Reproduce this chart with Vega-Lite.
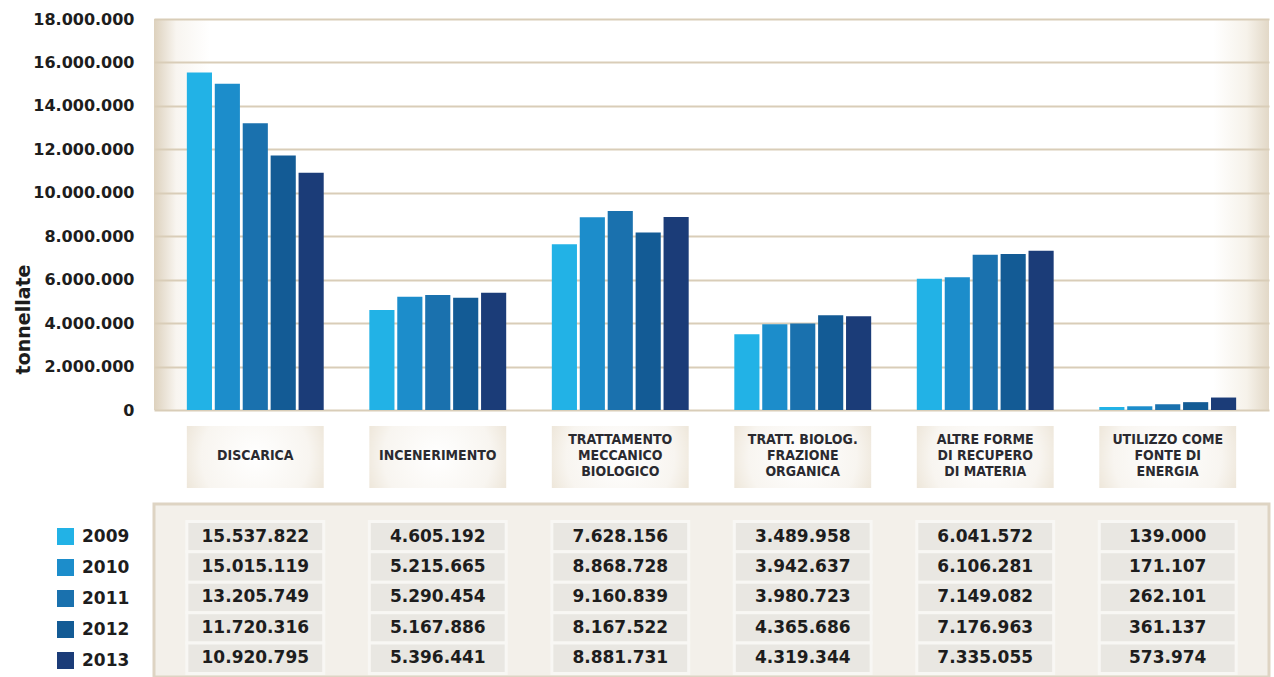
{
  "$schema": "https://vega.github.io/schema/vega-lite/v6.json",
  "autosize": {"type": "pad"},
  "padding": {"left": 14, "top": 11, "right": 4, "bottom": 0},
  "background": "white",
  "bounds": "flush",
  "config": {
    "locale": {"number": {"decimal": ",", "thousands": ".", "grouping": [3], "currency": ["", " €"]}},
    "view": {"stroke": null},
    "font": "DejaVu Sans"
  },
  "datasets": {
    "vals": [
      {"category": "DISCARICA", "year": "2009", "value": 15537822},
      {"category": "DISCARICA", "year": "2010", "value": 15015119},
      {"category": "DISCARICA", "year": "2011", "value": 13205749},
      {"category": "DISCARICA", "year": "2012", "value": 11720316},
      {"category": "DISCARICA", "year": "2013", "value": 10920795},
      {"category": "INCENERIMENTO", "year": "2009", "value": 4605192},
      {"category": "INCENERIMENTO", "year": "2010", "value": 5215665},
      {"category": "INCENERIMENTO", "year": "2011", "value": 5290454},
      {"category": "INCENERIMENTO", "year": "2012", "value": 5167886},
      {"category": "INCENERIMENTO", "year": "2013", "value": 5396441},
      {"category": "TRATTAMENTO|MECCANICO|BIOLOGICO", "year": "2009", "value": 7628156},
      {"category": "TRATTAMENTO|MECCANICO|BIOLOGICO", "year": "2010", "value": 8868728},
      {"category": "TRATTAMENTO|MECCANICO|BIOLOGICO", "year": "2011", "value": 9160839},
      {"category": "TRATTAMENTO|MECCANICO|BIOLOGICO", "year": "2012", "value": 8167522},
      {"category": "TRATTAMENTO|MECCANICO|BIOLOGICO", "year": "2013", "value": 8881731},
      {"category": "TRATT. BIOLOG.|FRAZIONE|ORGANICA", "year": "2009", "value": 3489958},
      {"category": "TRATT. BIOLOG.|FRAZIONE|ORGANICA", "year": "2010", "value": 3942637},
      {"category": "TRATT. BIOLOG.|FRAZIONE|ORGANICA", "year": "2011", "value": 3980723},
      {"category": "TRATT. BIOLOG.|FRAZIONE|ORGANICA", "year": "2012", "value": 4365686},
      {"category": "TRATT. BIOLOG.|FRAZIONE|ORGANICA", "year": "2013", "value": 4319344},
      {"category": "ALTRE FORME|DI RECUPERO|DI MATERIA", "year": "2009", "value": 6041572},
      {"category": "ALTRE FORME|DI RECUPERO|DI MATERIA", "year": "2010", "value": 6106281},
      {"category": "ALTRE FORME|DI RECUPERO|DI MATERIA", "year": "2011", "value": 7149082},
      {"category": "ALTRE FORME|DI RECUPERO|DI MATERIA", "year": "2012", "value": 7176963},
      {"category": "ALTRE FORME|DI RECUPERO|DI MATERIA", "year": "2013", "value": 7335055},
      {"category": "UTILIZZO COME|FONTE DI|ENERGIA", "year": "2009", "value": 139000},
      {"category": "UTILIZZO COME|FONTE DI|ENERGIA", "year": "2010", "value": 171107},
      {"category": "UTILIZZO COME|FONTE DI|ENERGIA", "year": "2011", "value": 262101},
      {"category": "UTILIZZO COME|FONTE DI|ENERGIA", "year": "2012", "value": 361137},
      {"category": "UTILIZZO COME|FONTE DI|ENERGIA", "year": "2013", "value": 573974}
    ],
    "cats": [
      {"category": "DISCARICA"},
      {"category": "INCENERIMENTO"},
      {"category": "TRATTAMENTO|MECCANICO|BIOLOGICO"},
      {"category": "TRATT. BIOLOG.|FRAZIONE|ORGANICA"},
      {"category": "ALTRE FORME|DI RECUPERO|DI MATERIA"},
      {"category": "UTILIZZO COME|FONTE DI|ENERGIA"}
    ]
  },
  "spacing": 16,
  "resolve": {"scale": {"x": "shared", "y": "independent", "color": "shared"}},
  "vconcat": [
    {
      "width": 1115,
      "height": 391,
      "data": {"name": "vals"},
      "view": {
        "fill": {"gradient": "linear", "x1": 0, "y1": 0, "x2": 1, "y2": 0,
          "stops": [
            {"offset": 0, "color": "#ddd1bd"},
            {"offset": 0.02, "color": "#f8f5f0"},
            {"offset": 0.05, "color": "#ffffff"},
            {"offset": 0.95, "color": "#ffffff"},
            {"offset": 0.98, "color": "#f6f2ea"},
            {"offset": 1, "color": "#e2d8c7"}
          ]},
        "stroke": null
      },
      "mark": {"type": "bar"},
      "encoding": {
        "x": {"field": "category", "type": "nominal", "sort": null,
          "scale": {"domain": ["DISCARICA", "INCENERIMENTO", "TRATTAMENTO|MECCANICO|BIOLOGICO", "TRATT. BIOLOG.|FRAZIONE|ORGANICA", "ALTRE FORME|DI RECUPERO|DI MATERIA", "UTILIZZO COME|FONTE DI|ENERGIA"], "paddingInner": 0.25, "paddingOuter": 0.18},
          "axis": null},
        "xOffset": {"field": "year", "type": "nominal", "scale": {"paddingInner": 0.1}},
        "y": {"field": "value", "type": "quantitative",
          "scale": {"domain": [0, 18000000], "nice": false},
          "axis": {
            "values": [0, 2000000, 4000000, 6000000, 8000000, 10000000, 12000000, 14000000, 16000000, 18000000],
            "format": ",d",
            "title": "tonnellate",
            "titleFont": "DejaVu Sans", "titleFontSize": 19, "titleFontWeight": "bold", "titleColor": "#1d1d1d",
            "titleAngle": -90, "titleBaseline": "alphabetic", "titleAlign": "center",
            "titleX": -125, "titleY": 300,
            "labelFont": "DejaVu Sans", "labelFontSize": 16, "labelFontWeight": "bold", "labelColor": "#1d1d1d",
            "labelPadding": 20,
            "domain": false, "ticks": false,
            "grid": true, "gridColor": "#d9cdb8", "gridWidth": 2
          }},
        "color": {"field": "year", "type": "nominal",
          "scale": {"domain": ["2009", "2010", "2011", "2012", "2013"], "range": ["#22b2e6", "#1c8dcb", "#1a71ae", "#135b95", "#1b3c78"]},
          "legend": {
            "title": null, "orient": "none", "legendX": -97, "legendY": 509,
            "symbolType": "square", "symbolSize": 289, "symbolStrokeWidth": 0, "symbolOpacity": 1,
            "labelFont": "DejaVu Sans", "labelFontSize": 17, "labelFontWeight": "bold", "labelColor": "#1d1d1d",
            "labelOffset": 8, "rowPadding": 13, "padding": 0
          }}
      }
    },
    {
      "width": 1115,
      "height": 62,
      "data": {"name": "cats"},
      "layer": [
        {
          "mark": {"type": "rect",
            "fill": {"gradient": "radial", "x1": 0.5, "y1": 0.5, "r1": 0, "x2": 0.5, "y2": 0.5, "r2": 0.72,
              "stops": [
                {"offset": 0, "color": "#ffffff"},
                {"offset": 0.55, "color": "#f8f5f0"},
                {"offset": 0.8, "color": "#ece4d6"},
                {"offset": 1, "color": "#d8cbb4"}
              ]}},
          "encoding": {
            "x": {"field": "category", "type": "nominal", "sort": null, "axis": null}
          }
        },
        {
          "transform": [{"filter": "indexof(datum.category, '|') < 0"}],
          "mark": {"type": "text", "lineBreak": "|", "font": "DejaVu Sans Condensed", "fontSize": 14, "fontWeight": "bold", "color": "#2a2a30", "lineHeight": 16, "baseline": "middle", "align": "center", "dy": -1},
          "encoding": {
            "x": {"field": "category", "type": "nominal", "sort": null, "axis": null},
            "text": {"field": "category", "type": "nominal"}
          }
        },
        {
          "transform": [{"filter": "indexof(datum.category, '|') >= 0"}],
          "mark": {"type": "text", "lineBreak": "|", "font": "DejaVu Sans Condensed", "fontSize": 14, "fontWeight": "bold", "color": "#2a2a30", "lineHeight": 16, "baseline": "middle", "align": "center", "dy": -17},
          "encoding": {
            "x": {"field": "category", "type": "nominal", "sort": null, "axis": null},
            "text": {"field": "category", "type": "nominal"}
          }
        }
      ]
    },
    {
      "width": 1115,
      "height": 173,
      "data": {"name": "vals"},
      "view": {"fill": "#f3f0ea", "stroke": "#ded4c3", "strokeWidth": 3},
      "layer": [
        {
          "mark": {"type": "rect", "fill": "#e9e7e2", "stroke": "#f8f7f4", "strokeWidth": 3},
          "encoding": {
            "x": {"field": "category", "type": "nominal", "sort": null, "axis": null},
            "y": {"field": "year", "type": "nominal", "axis": null,
              "scale": {"domain": ["2009", "2010", "2011", "2012", "2013"], "paddingInner": 0, "paddingOuter": 0.345, "align": 0.83}}
          }
        },
        {
          "mark": {"type": "text", "font": "DejaVu Sans", "fontSize": 17, "fontWeight": "bold", "color": "#1d1d1d", "baseline": "middle", "align": "center"},
          "encoding": {
            "x": {"field": "category", "type": "nominal", "sort": null, "axis": null},
            "y": {"field": "year", "type": "nominal", "axis": null},
            "text": {"field": "value", "type": "quantitative", "format": ",d"}
          }
        }
      ]
    }
  ]
}
